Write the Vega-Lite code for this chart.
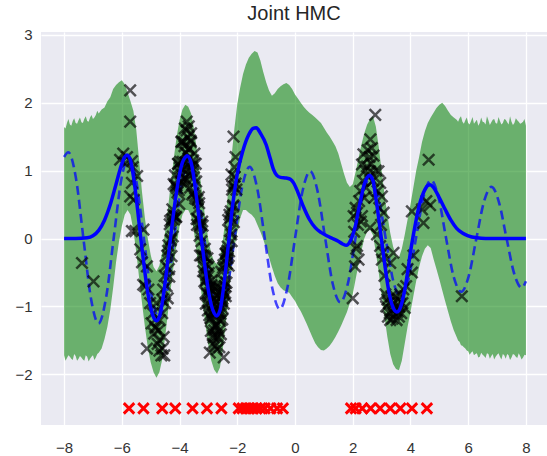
{
"$schema": "https://vega.github.io/schema/vega-lite/v6.json",
"width": 506, "height": 393,
"autosize": "none",
"padding": {"left": 41, "top": 32, "right": 0, "bottom": 31},
"title": {"text": "Joint HMC", "fontSize": 20, "font": "Liberation Sans", "fontWeight": "normal", "color": "#262626", "offset": 4},
"config": {
 "view": {"fill": "#EAEAF2", "stroke": null},
 "axis": {"grid": true, "gridColor": "#FFFFFF", "gridWidth": 1.3, "domain": false, "ticks": false, "tickSize": 0, "labelFont": "Liberation Sans", "labelFontSize": 15, "labelColor": "#333333"},
 "axisX": {"labelPadding": 15},
 "axisY": {"labelPadding": 9}
},
"datasets": {
 "band": [
{"x":-8.0,"lo":-1.72,"hi":1.64},{"x":-7.9,"lo":-1.76,"hi":1.7},{"x":-7.8,"lo":-1.74,"hi":1.68},{"x":-7.7,"lo":-1.79,"hi":1.73},{"x":-7.6,"lo":-1.73,"hi":1.7},{"x":-7.5,"lo":-1.77,"hi":1.74},{"x":-7.4,"lo":-1.75,"hi":1.71},{"x":-7.3,"lo":-1.8,"hi":1.76},{"x":-7.2,"lo":-1.74,"hi":1.73},{"x":-7.1,"lo":-1.77,"hi":1.78},
{"x":-7.0,"lo":-1.72,"hi":1.76},{"x":-6.9,"lo":-1.75,"hi":1.82},{"x":-6.8,"lo":-1.68,"hi":1.84},{"x":-6.7,"lo":-1.62,"hi":1.9},{"x":-6.6,"lo":-1.48,"hi":1.93},{"x":-6.5,"lo":-1.3,"hi":2.02},{"x":-6.4,"lo":-1.05,"hi":2.08},{"x":-6.3,"lo":-0.72,"hi":2.2},{"x":-6.2,"lo":-0.35,"hi":2.26},{"x":-6.1,"lo":-0.05,"hi":2.3},
{"x":-6.0,"lo":0.18,"hi":2.33},{"x":-5.9,"lo":0.35,"hi":2.27},{"x":-5.8,"lo":0.42,"hi":2.15},{"x":-5.7,"lo":0.35,"hi":2.02},{"x":-5.6,"lo":0.12,"hi":1.88},{"x":-5.5,"lo":-0.2,"hi":1.6},{"x":-5.4,"lo":-0.58,"hi":1.15},{"x":-5.3,"lo":-0.95,"hi":0.68},{"x":-5.2,"lo":-1.3,"hi":0.3},{"x":-5.1,"lo":-1.6,"hi":0.0},
{"x":-5.0,"lo":-1.82,"hi":-0.24},{"x":-4.9,"lo":-1.97,"hi":-0.42},{"x":-4.8,"lo":-2.05,"hi":-0.48},{"x":-4.7,"lo":-1.97,"hi":-0.4},{"x":-4.6,"lo":-1.78,"hi":-0.2},{"x":-4.5,"lo":-1.45,"hi":0.1},{"x":-4.4,"lo":-1.08,"hi":0.45},{"x":-4.3,"lo":-0.72,"hi":0.82},{"x":-4.2,"lo":-0.38,"hi":1.18},{"x":-4.1,"lo":-0.08,"hi":1.5},
{"x":-4.0,"lo":0.18,"hi":1.74},{"x":-3.9,"lo":0.35,"hi":1.9},{"x":-3.8,"lo":0.42,"hi":1.97},{"x":-3.7,"lo":0.42,"hi":1.94},{"x":-3.6,"lo":0.33,"hi":1.84},{"x":-3.5,"lo":0.1,"hi":1.62},{"x":-3.4,"lo":-0.24,"hi":1.3},{"x":-3.3,"lo":-0.6,"hi":0.95},{"x":-3.2,"lo":-0.95,"hi":0.6},{"x":-3.1,"lo":-1.28,"hi":0.27},
{"x":-3.0,"lo":-1.58,"hi":-0.02},{"x":-2.9,"lo":-1.8,"hi":-0.22},{"x":-2.8,"lo":-1.93,"hi":-0.34},{"x":-2.7,"lo":-1.99,"hi":-0.38},{"x":-2.6,"lo":-1.9,"hi":-0.28},{"x":-2.5,"lo":-1.62,"hi":-0.03},{"x":-2.4,"lo":-1.25,"hi":0.33},{"x":-2.3,"lo":-0.85,"hi":0.76},{"x":-2.2,"lo":-0.45,"hi":1.2},{"x":-2.1,"lo":-0.12,"hi":1.62},
{"x":-2.0,"lo":0.09,"hi":1.98},{"x":-1.9,"lo":0.3,"hi":2.22},{"x":-1.8,"lo":0.42,"hi":2.42},{"x":-1.7,"lo":0.42,"hi":2.56},{"x":-1.6,"lo":0.38,"hi":2.66},{"x":-1.5,"lo":0.35,"hi":2.72},{"x":-1.4,"lo":0.3,"hi":2.76},{"x":-1.3,"lo":0.2,"hi":2.74},{"x":-1.2,"lo":0.1,"hi":2.62},{"x":-1.1,"lo":-0.01,"hi":2.45},
{"x":-1.0,"lo":-0.15,"hi":2.3},{"x":-0.9,"lo":-0.28,"hi":2.18},{"x":-0.8,"lo":-0.42,"hi":2.1},{"x":-0.7,"lo":-0.55,"hi":2.14},{"x":-0.6,"lo":-0.66,"hi":2.2},{"x":-0.5,"lo":-0.72,"hi":2.24},{"x":-0.4,"lo":-0.76,"hi":2.27},{"x":-0.3,"lo":-0.78,"hi":2.29},{"x":-0.2,"lo":-0.8,"hi":2.26},{"x":-0.1,"lo":-0.86,"hi":2.2},
{"x":0.0,"lo":-0.92,"hi":2.12},{"x":0.1,"lo":-1.0,"hi":2.06},{"x":0.2,"lo":-1.07,"hi":2.0},{"x":0.3,"lo":-1.16,"hi":1.94},{"x":0.4,"lo":-1.25,"hi":1.89},{"x":0.5,"lo":-1.35,"hi":1.85},{"x":0.6,"lo":-1.45,"hi":1.82},{"x":0.7,"lo":-1.54,"hi":1.78},{"x":0.8,"lo":-1.6,"hi":1.74},{"x":0.9,"lo":-1.64,"hi":1.7},
{"x":1.0,"lo":-1.65,"hi":1.63},{"x":1.1,"lo":-1.62,"hi":1.56},{"x":1.2,"lo":-1.58,"hi":1.5},{"x":1.3,"lo":-1.52,"hi":1.43},{"x":1.4,"lo":-1.45,"hi":1.36},{"x":1.5,"lo":-1.37,"hi":1.25},{"x":1.6,"lo":-1.28,"hi":1.1},{"x":1.7,"lo":-1.18,"hi":0.95},{"x":1.8,"lo":-1.08,"hi":0.82},{"x":1.9,"lo":-0.95,"hi":0.76},
{"x":2.0,"lo":-0.82,"hi":0.8},{"x":2.1,"lo":-0.6,"hi":0.98},{"x":2.2,"lo":-0.38,"hi":1.18},{"x":2.3,"lo":-0.18,"hi":1.38},{"x":2.4,"lo":0.0,"hi":1.55},{"x":2.5,"lo":0.1,"hi":1.68},{"x":2.6,"lo":0.13,"hi":1.76},{"x":2.7,"lo":0.05,"hi":1.8},{"x":2.8,"lo":-0.2,"hi":1.65},{"x":2.9,"lo":-0.5,"hi":1.35},
{"x":3.0,"lo":-0.83,"hi":1.0},{"x":3.1,"lo":-1.15,"hi":0.65},{"x":3.2,"lo":-1.45,"hi":0.35},{"x":3.3,"lo":-1.7,"hi":0.08},{"x":3.4,"lo":-1.85,"hi":-0.12},{"x":3.5,"lo":-1.92,"hi":-0.25},{"x":3.6,"lo":-1.94,"hi":-0.28},{"x":3.7,"lo":-1.8,"hi":-0.15},{"x":3.8,"lo":-1.55,"hi":0.05},{"x":3.9,"lo":-1.3,"hi":0.28},
{"x":4.0,"lo":-1.08,"hi":0.5},{"x":4.1,"lo":-0.85,"hi":0.75},{"x":4.2,"lo":-0.62,"hi":1.0},{"x":4.3,"lo":-0.42,"hi":1.2},{"x":4.4,"lo":-0.26,"hi":1.42},{"x":4.5,"lo":-0.15,"hi":1.58},{"x":4.6,"lo":-0.1,"hi":1.7},{"x":4.7,"lo":-0.14,"hi":1.78},{"x":4.8,"lo":-0.3,"hi":1.85},{"x":4.9,"lo":-0.45,"hi":1.92},
{"x":5.0,"lo":-0.6,"hi":1.97},{"x":5.1,"lo":-0.76,"hi":2.0},{"x":5.2,"lo":-0.92,"hi":1.95},{"x":5.3,"lo":-1.07,"hi":1.88},{"x":5.4,"lo":-1.22,"hi":1.82},{"x":5.5,"lo":-1.35,"hi":1.78},{"x":5.6,"lo":-1.45,"hi":1.75},{"x":5.7,"lo":-1.52,"hi":1.77},{"x":5.8,"lo":-1.58,"hi":1.72},{"x":5.9,"lo":-1.62,"hi":1.74},
{"x":6.0,"lo":-1.66,"hi":1.7},{"x":6.1,"lo":-1.68,"hi":1.73},{"x":6.2,"lo":-1.72,"hi":1.69},{"x":6.3,"lo":-1.69,"hi":1.75},{"x":6.4,"lo":-1.74,"hi":1.7},{"x":6.5,"lo":-1.71,"hi":1.72},{"x":6.6,"lo":-1.76,"hi":1.68},{"x":6.7,"lo":-1.7,"hi":1.74},{"x":6.8,"lo":-1.73,"hi":1.71},{"x":6.9,"lo":-1.78,"hi":1.76},
{"x":7.0,"lo":-1.71,"hi":1.69},{"x":7.1,"lo":-1.74,"hi":1.73},{"x":7.2,"lo":-1.7,"hi":1.7},{"x":7.3,"lo":-1.77,"hi":1.75},{"x":7.4,"lo":-1.72,"hi":1.68},{"x":7.5,"lo":-1.75,"hi":1.72},{"x":7.6,"lo":-1.71,"hi":1.7},{"x":7.7,"lo":-1.76,"hi":1.74},{"x":7.8,"lo":-1.73,"hi":1.69},{"x":7.9,"lo":-1.75,"hi":1.72},{"x":8.0,"lo":-1.72,"hi":1.66},
{"x":-7.95,"lo":-1.8,"hi":1.62},{"x":-7.85,"lo":-1.72,"hi":1.76},{"x":-7.75,"lo":-1.77,"hi":1.66},{"x":-7.65,"lo":-1.7,"hi":1.77},{"x":-7.55,"lo":-1.8,"hi":1.69},{"x":-7.45,"lo":-1.73,"hi":1.78},{"x":-7.35,"lo":-1.78,"hi":1.7},{"x":-7.25,"lo":-1.72,"hi":1.8},{"x":-7.15,"lo":-1.81,"hi":1.72},{"x":-7.05,"lo":-1.74,"hi":1.82},{"x":-6.95,"lo":-1.79,"hi":1.78},{"x":-6.85,"lo":-1.7,"hi":1.88},
{"x":5.65,"lo":-1.5,"hi":1.72},{"x":5.75,"lo":-1.57,"hi":1.8},{"x":5.85,"lo":-1.6,"hi":1.69},{"x":5.95,"lo":-1.65,"hi":1.78},{"x":6.05,"lo":-1.71,"hi":1.68},{"x":6.15,"lo":-1.66,"hi":1.79},{"x":6.25,"lo":-1.7,"hi":1.72},{"x":6.35,"lo":-1.75,"hi":1.66},{"x":6.45,"lo":-1.68,"hi":1.78},{"x":6.55,"lo":-1.73,"hi":1.71},{"x":6.65,"lo":-1.69,"hi":1.8},{"x":6.75,"lo":-1.77,"hi":1.67},{"x":6.85,"lo":-1.7,"hi":1.75},{"x":6.95,"lo":-1.74,"hi":1.7},{"x":7.05,"lo":-1.69,"hi":1.79},{"x":7.15,"lo":-1.78,"hi":1.68},{"x":7.25,"lo":-1.72,"hi":1.76},{"x":7.35,"lo":-1.7,"hi":1.71},{"x":7.45,"lo":-1.79,"hi":1.8},{"x":7.55,"lo":-1.7,"hi":1.67},{"x":7.65,"lo":-1.74,"hi":1.77},{"x":7.75,"lo":-1.69,"hi":1.72},{"x":7.85,"lo":-1.78,"hi":1.7},{"x":7.95,"lo":-1.71,"hi":1.76}
 ],
 "mean": [
{"x":-8,"y":0},{"x":-7.6,"y":0},{"x":-7.2,"y":0.01},{"x":-7.0,"y":0.04},{"x":-6.8,"y":0.12},{"x":-6.6,"y":0.27},{"x":-6.4,"y":0.5},{"x":-6.2,"y":0.8},{"x":-6.0,"y":1.1},{"x":-5.9,"y":1.2},{"x":-5.82,"y":1.23},{"x":-5.7,"y":1.15},{"x":-5.6,"y":0.92},{"x":-5.5,"y":0.6},{"x":-5.4,"y":0.22},{"x":-5.3,"y":-0.15},{"x":-5.2,"y":-0.5},{"x":-5.1,"y":-0.8},{"x":-5.0,"y":-1.02},{"x":-4.9,"y":-1.16},{"x":-4.8,"y":-1.21},{"x":-4.7,"y":-1.15},{"x":-4.6,"y":-0.95},{"x":-4.5,"y":-0.65},{"x":-4.4,"y":-0.3},{"x":-4.3,"y":0.05},{"x":-4.2,"y":0.4},{"x":-4.1,"y":0.7},{"x":-4.0,"y":0.95},{"x":-3.9,"y":1.12},{"x":-3.8,"y":1.2},{"x":-3.74,"y":1.22},{"x":-3.6,"y":1.12},{"x":-3.5,"y":0.88},{"x":-3.4,"y":0.56},{"x":-3.3,"y":0.2},{"x":-3.2,"y":-0.15},{"x":-3.1,"y":-0.48},{"x":-3.0,"y":-0.77},{"x":-2.9,"y":-0.98},{"x":-2.8,"y":-1.1},{"x":-2.72,"y":-1.14},{"x":-2.6,"y":-1.06},{"x":-2.5,"y":-0.8},{"x":-2.4,"y":-0.45},{"x":-2.3,"y":-0.05},{"x":-2.2,"y":0.35},{"x":-2.1,"y":0.68},{"x":-2.0,"y":0.95},{"x":-1.8,"y":1.3},{"x":-1.6,"y":1.53},{"x":-1.45,"y":1.62},{"x":-1.34,"y":1.63},{"x":-1.2,"y":1.55},{"x":-1.0,"y":1.38},{"x":-0.86,"y":1.18},{"x":-0.75,"y":1.02},{"x":-0.63,"y":0.93},{"x":-0.5,"y":0.9},{"x":-0.3,"y":0.89},{"x":-0.15,"y":0.87},{"x":-0.05,"y":0.82},{"x":0.1,"y":0.68},{"x":0.3,"y":0.46},{"x":0.5,"y":0.28},{"x":0.7,"y":0.16},{"x":0.9,"y":0.09},{"x":1.1,"y":0.04},{"x":1.3,"y":0.0},{"x":1.5,"y":-0.04},{"x":1.65,"y":-0.08},{"x":1.78,"y":-0.1},{"x":1.9,"y":-0.05},{"x":2.0,"y":0.05},{"x":2.1,"y":0.2},{"x":2.2,"y":0.42},{"x":2.3,"y":0.62},{"x":2.4,"y":0.8},{"x":2.5,"y":0.9},{"x":2.58,"y":0.93},{"x":2.7,"y":0.85},{"x":2.8,"y":0.6},{"x":2.9,"y":0.3},{"x":3.0,"y":-0.03},{"x":3.1,"y":-0.35},{"x":3.2,"y":-0.65},{"x":3.3,"y":-0.88},{"x":3.4,"y":-1.02},{"x":3.52,"y":-1.08},{"x":3.6,"y":-1.06},{"x":3.7,"y":-0.95},{"x":3.8,"y":-0.76},{"x":3.9,"y":-0.5},{"x":4.0,"y":-0.2},{"x":4.1,"y":0.05},{"x":4.2,"y":0.28},{"x":4.3,"y":0.48},{"x":4.4,"y":0.62},{"x":4.5,"y":0.72},{"x":4.6,"y":0.78},{"x":4.68,"y":0.79},{"x":4.8,"y":0.75},{"x":5.0,"y":0.6},{"x":5.2,"y":0.43},{"x":5.4,"y":0.27},{"x":5.6,"y":0.15},{"x":5.8,"y":0.08},{"x":6.0,"y":0.04},{"x":6.3,"y":0.01},{"x":6.6,"y":0},{"x":8,"y":0}
 ],
 "truth": [
{"x":-8,"y":1.2},{"x":-7.854,"y":1.27},{"x":-7.592,"y":0.895},{"x":-7.33,"y":0},{"x":-7.069,"y":-0.882},{"x":-6.807,"y":-1.25},{"x":-6.545,"y":-0.869},{"x":-6.283,"y":0},{"x":-6.021,"y":0.856},{"x":-5.76,"y":1.2},{"x":-5.498,"y":0.843},{"x":-5.236,"y":0},{"x":-4.974,"y":-0.83},{"x":-4.712,"y":-1.165},{"x":-4.451,"y":-0.818},{"x":-4.189,"y":0},{"x":-3.927,"y":0.804},{"x":-3.665,"y":1.128},{"x":-3.403,"y":0.791},{"x":-3.142,"y":0},{"x":-2.88,"y":-0.778},{"x":-2.618,"y":-1.092},{"x":-2.356,"y":-0.765},{"x":-2.094,"y":0},{"x":-1.833,"y":0.752},{"x":-1.571,"y":1.055},{"x":-1.309,"y":0.739},{"x":-1.047,"y":0},{"x":-0.785,"y":-0.735},{"x":-0.524,"y":-1.04},{"x":-0.262,"y":-0.72},{"x":0,"y":0},{"x":0.262,"y":0.7},{"x":0.524,"y":0.99},{"x":0.785,"y":0.69},{"x":1.047,"y":0},{"x":1.309,"y":-0.67},{"x":1.571,"y":-0.94},{"x":1.833,"y":-0.66},{"x":2.094,"y":0},{"x":2.356,"y":0.649},{"x":2.618,"y":0.908},{"x":2.88,"y":0.636},{"x":3.142,"y":0},{"x":3.403,"y":-0.623},{"x":3.665,"y":-0.872},{"x":3.927,"y":-0.61},{"x":4.189,"y":0},{"x":4.451,"y":0.61},{"x":4.712,"y":0.86},{"x":4.974,"y":0.6},{"x":5.236,"y":0},{"x":5.498,"y":-0.565},{"x":5.76,"y":-0.785},{"x":6.021,"y":-0.55},{"x":6.283,"y":0},{"x":6.545,"y":0.54},{"x":6.807,"y":0.76},{"x":7.069,"y":0.53},{"x":7.33,"y":0},{"x":7.592,"y":-0.515},{"x":7.854,"y":-0.725},{"x":8,"y":-0.63}
 ],
 "obs": [
{"x":-7.38,"y":-0.36},{"x":-6.98,"y":-0.63},
{"x":-6.06,"y":1.16},{"x":-5.95,"y":1.25},{"x":-5.88,"y":1.11},{"x":-5.82,"y":1.2},{"x":-5.71,"y":2.18},{"x":-5.71,"y":1.72},{"x":-5.65,"y":1.14},{"x":-5.62,"y":1.05},{"x":-5.65,"y":0.82},{"x":-5.71,"y":0.62},{"x":-5.59,"y":0.57},{"x":-5.47,"y":0.92},{"x":-5.53,"y":0.11},{"x":-5.65,"y":0.11},{"x":-5.25,"y":0.13},{"x":-5.36,"y":-0.16},{"x":-5.13,"y":-0.41},{"x":-5.19,"y":-0.7},{"x":-5.3,"y":-0.35},{"x":-5.08,"y":-0.75},{"x":-5.02,"y":-0.95},{"x":-5.13,"y":-1.62},{"x":-4.97,"y":-1.25},{"x":-4.92,"y":-1.1},{"x":-4.88,"y":-1.4},{"x":-4.84,"y":-1.3},{"x":-4.8,"y":-0.95},{"x":-4.76,"y":-1.55},{"x":-4.72,"y":-1.35},{"x":-4.7,"y":-1.65},{"x":-4.68,"y":-1.2},{"x":-4.63,"y":-1.72},{"x":-4.6,"y":-0.9},{"x":-4.6,"y":-1.1},{"x":-4.57,"y":-0.75},{"x":-4.55,"y":-1.45},{"x":-4.52,"y":-0.55},{"x":-4.5,"y":-0.95},{"x":-4.48,"y":-0.4},{"x":-4.45,"y":-0.7},{"x":-4.43,"y":-0.25},{"x":-4.41,"y":-0.88},{"x":-5.26,"y":-0.68},{"x":-4.83,"y":-1.32},{"x":-4.71,"y":-1.5},{"x":-4.59,"y":-1.62},{"x":-4.53,"y":-1.72},
{"x":-4.40,"y":-0.18},{"x":-4.37,"y":-0.45},{"x":-4.34,"y":0.21},{"x":-4.31,"y":-0.03},{"x":-4.28,"y":-0.26},{"x":-4.25,"y":0.43},{"x":-4.22,"y":0.35},{"x":-4.19,"y":0.28},{"x":-4.16,"y":0.93},{"x":-4.13,"y":0.31},{"x":-4.10,"y":0.78},{"x":-4.07,"y":0.68},{"x":-4.04,"y":1.10},{"x":-4.01,"y":0.51},{"x":-3.98,"y":1.13},{"x":-3.95,"y":0.84},{"x":-3.92,"y":1.43},{"x":-3.89,"y":1.13},{"x":-3.86,"y":0.87},{"x":-3.83,"y":1.36},{"x":-3.80,"y":1.12},{"x":-3.77,"y":1.26},{"x":-3.74,"y":0.86},{"x":-3.71,"y":1.49},{"x":-3.68,"y":1.31},{"x":-3.65,"y":0.92},{"x":-3.62,"y":1.44},{"x":-3.59,"y":1.05},{"x":-3.56,"y":0.65},{"x":-3.53,"y":1.15},{"x":-3.50,"y":0.90},{"x":-3.47,"y":0.63},{"x":-3.44,"y":1.10},{"x":-3.41,"y":0.29},{"x":-3.38,"y":0.57},{"x":-3.35,"y":0.28},{"x":-3.32,"y":0.52},{"x":-3.29,"y":-0.25},{"x":-3.26,"y":0.21},{"x":-3.23,"y":-0.25},{"x":-3.20,"y":0.19},{"x":-3.17,"y":-0.25},{"x":-3.14,"y":-0.63},{"x":-3.11,"y":-0.27},{"x":-3.08,"y":-0.62},{"x":-3.05,"y":-0.58},{"x":-3.02,"y":-1.06},{"x":-2.99,"y":-0.51},{"x":-2.96,"y":-0.73},{"x":-2.93,"y":-1.17},{"x":-2.90,"y":-0.68},{"x":-2.87,"y":-1.07},{"x":-2.84,"y":-1.43},{"x":-2.81,"y":-0.89},{"x":-2.78,"y":-1.09},{"x":-2.75,"y":-1.27},{"x":-2.72,"y":-0.72},{"x":-2.69,"y":-1.43},{"x":-2.66,"y":-1.03},{"x":-2.63,"y":-1.19},{"x":-2.60,"y":-0.81},{"x":-2.57,"y":-1.41},{"x":-2.54,"y":-0.76},{"x":-2.51,"y":-1.03},{"x":-2.48,"y":-0.39},{"x":-2.45,"y":-0.63},{"x":-2.42,"y":-0.80},{"x":-2.39,"y":-0.23},{"x":-2.36,"y":-0.37},{"x":-2.33,"y":-0.12},{"x":-2.30,"y":-0.40},{"x":-2.27,"y":0.35},{"x":-2.24,"y":0.31},{"x":-2.21,"y":0.06},{"x":-2.18,"y":0.72},{"x":-2.15,"y":0.47},{"x":-2.12,"y":0.24},{"x":-2.09,"y":0.91},{"x":-2.06,"y":0.81},{"x":-2.03,"y":0.72},
{"x":-4.385,"y":-0.10},{"x":-4.355,"y":-0.56},{"x":-4.325,"y":0.26},{"x":-4.295,"y":-0.01},{"x":-4.265,"y":0.28},{"x":-4.235,"y":0.03},{"x":-4.205,"y":0.80},{"x":-4.175,"y":0.33},{"x":-4.145,"y":0.77},{"x":-4.115,"y":0.32},{"x":-4.085,"y":0.74},{"x":-4.055,"y":1.10},{"x":-4.025,"y":0.71},{"x":-3.995,"y":1.04},{"x":-3.965,"y":0.96},{"x":-3.935,"y":1.42},{"x":-3.905,"y":0.83},{"x":-3.875,"y":1.02},{"x":-3.845,"y":1.42},{"x":-3.815,"y":0.89},{"x":-3.785,"y":1.26},{"x":-3.755,"y":1.59},{"x":-3.725,"y":1.01},{"x":-3.695,"y":1.18},{"x":-3.665,"y":1.33},{"x":-3.635,"y":0.75},{"x":-3.605,"y":1.42},{"x":-3.575,"y":0.99},{"x":-3.545,"y":1.09},{"x":-3.515,"y":0.67},{"x":-3.485,"y":1.25},{"x":-3.455,"y":0.59},{"x":-3.425,"y":0.84},{"x":-3.395,"y":0.20},{"x":-3.365,"y":0.44},{"x":-3.335,"y":0.61},{"x":-3.305,"y":0.04},{"x":-3.275,"y":0.20},{"x":-3.245,"y":-0.04},{"x":-3.215,"y":0.25},{"x":-3.185,"y":-0.48},{"x":-3.155,"y":-0.42},{"x":-3.125,"y":-0.15},{"x":-3.095,"y":-0.80},{"x":-3.065,"y":-0.54},{"x":-3.035,"y":-0.29},{"x":-3.005,"y":-0.95},{"x":-2.975,"y":-0.84},{"x":-2.945,"y":-0.74},{"x":-2.915,"y":-1.36},{"x":-2.885,"y":-0.70},{"x":-2.855,"y":-1.12},{"x":-2.825,"y":-0.97},{"x":-2.795,"y":-1.35},{"x":-2.765,"y":-0.70},{"x":-2.735,"y":-1.28},{"x":-2.705,"y":-0.93},{"x":-2.675,"y":-1.46},{"x":-2.645,"y":-1.10},{"x":-2.615,"y":-0.80},{"x":-2.585,"y":-1.21},{"x":-2.555,"y":-0.87},{"x":-2.525,"y":-0.92},{"x":-2.495,"y":-0.43},{"x":-2.465,"y":-0.96},{"x":-2.435,"y":-0.70},{"x":-2.405,"y":-0.22},{"x":-2.375,"y":-0.65},{"x":-2.345,"y":-0.18},{"x":-2.315,"y":0.27},{"x":-2.285,"y":-0.19},{"x":-2.255,"y":0.11},{"x":-2.225,"y":0.40},{"x":-2.195,"y":-0.04},{"x":-2.165,"y":0.77},{"x":-2.135,"y":0.49},{"x":-2.105,"y":0.77},
{"x":-3.09,"y":-0.96},{"x":-3.06,"y":-0.38},{"x":-3.03,"y":-0.81},{"x":-3.00,"y":-0.41},{"x":-2.97,"y":-1.13},{"x":-2.94,"y":-0.80},{"x":-2.91,"y":-1.18},{"x":-2.88,"y":-0.61},{"x":-2.85,"y":-1.09},{"x":-2.82,"y":-1.46},{"x":-2.79,"y":-0.95},{"x":-2.76,"y":-1.30},{"x":-2.73,"y":-0.83},{"x":-2.70,"y":-1.63},{"x":-2.67,"y":-1.07},{"x":-2.64,"y":-1.36},{"x":-2.61,"y":-0.87},{"x":-2.58,"y":-1.11},{"x":-2.55,"y":-0.49},{"x":-2.52,"y":-1.19},{"x":-2.49,"y":-0.76},{"x":-2.46,"y":-0.81},{"x":-2.43,"y":-0.31},{"x":-2.40,"y":-0.85},{"x":-2.37,"y":-0.21},{"x":-2.34,"y":-0.29},
{"x":-2.47,"y":-1.75},{"x":-2.95,"y":-1.68},{"x":-2.78,"y":-1.58},{"x":-2.62,"y":-1.6},{"x":-2.85,"y":-1.55},{"x":-3.75,"y":1.72},{"x":-3.68,"y":1.65},{"x":-3.82,"y":1.62},{"x":-3.6,"y":1.55},{"x":-2.13,"y":1.5},{"x":-2.2,"y":0.94},{"x":-2.06,"y":1.2},{"x":-2.1,"y":1.05},
{"x":2.0,"y":-0.88},{"x":2.03,"y":0.33},{"x":2.05,"y":0.1},{"x":2.08,"y":-0.41},{"x":2.1,"y":0.45},{"x":2.12,"y":-0.15},{"x":2.15,"y":0.38},{"x":2.15,"y":-0.11},{"x":2.18,"y":0.2},{"x":2.2,"y":-0.31},{"x":2.22,"y":0.55},{"x":2.26,"y":0.7},{"x":2.28,"y":0.25},{"x":2.32,"y":1.09},{"x":2.32,"y":0.33},{"x":2.35,"y":0.85},{"x":2.37,"y":1.24},{"x":2.4,"y":0.6},{"x":2.43,"y":1.0},{"x":2.46,"y":0.75},{"x":2.49,"y":1.06},{"x":2.52,"y":1.3},{"x":2.55,"y":0.9},{"x":2.58,"y":1.2},{"x":2.6,"y":0.99},{"x":2.6,"y":0.16},{"x":2.61,"y":1.46},{"x":2.64,"y":1.1},{"x":2.66,"y":1.33},{"x":2.7,"y":0.85},{"x":2.72,"y":1.22},{"x":2.75,"y":0.6},{"x":2.78,"y":1.82},{"x":2.8,"y":1.0},{"x":2.84,"y":0.06},{"x":2.86,"y":0.7},{"x":2.89,"y":0.99},{"x":2.92,"y":0.45},{"x":2.95,"y":0.82},{"x":2.95,"y":-0.11},{"x":2.98,"y":0.2},{"x":3.01,"y":0.62},{"x":3.01,"y":-0.31},{"x":3.04,"y":-0.2},{"x":3.07,"y":0.38},{"x":3.1,"y":-0.55},{"x":3.13,"y":-0.82},{"x":3.16,"y":-1.0},{"x":3.2,"y":-0.9},{"x":3.22,"y":-1.15},{"x":3.25,"y":-0.95},{"x":3.28,"y":-1.1},{"x":3.3,"y":-0.36},{"x":3.3,"y":-1.2},{"x":3.33,"y":-0.85},{"x":3.36,"y":-1.05},{"x":3.38,"y":-1.18},{"x":3.41,"y":-0.21},{"x":3.41,"y":-0.95},{"x":3.44,"y":-1.12},{"x":3.47,"y":-0.85},{"x":3.5,"y":-1.0},{"x":3.52,"y":-1.2},{"x":3.55,"y":-1.08},{"x":3.58,"y":-0.9},{"x":3.6,"y":-1.15},{"x":3.62,"y":-1.0},{"x":3.65,"y":-0.82},{"x":3.68,"y":-1.1},{"x":3.72,"y":-0.95},{"x":3.75,"y":-0.75},{"x":3.8,"y":-1.02},{"x":3.85,"y":-0.7},{"x":3.9,"y":-0.45},{"x":4.05,"y":-0.5},{"x":4.05,"y":0.4},{"x":4.1,"y":-0.25},{"x":4.4,"y":0.43},{"x":4.45,"y":0.23},{"x":4.55,"y":0.55},{"x":4.68,"y":0.49},{"x":4.63,"y":1.16},{"x":5.78,"y":-0.85}
 ],
 "inducing": [
{"x":-5.75,"y":-2.5},{"x":-5.25,"y":-2.5},{"x":-4.6,"y":-2.5},{"x":-4.15,"y":-2.5},{"x":-3.55,"y":-2.5},{"x":-3.05,"y":-2.5},{"x":-2.55,"y":-2.5},
{"x":-1.95,"y":-2.5},{"x":-1.82,"y":-2.5},{"x":-1.7,"y":-2.5},{"x":-1.58,"y":-2.5},{"x":-1.45,"y":-2.5},{"x":-1.33,"y":-2.5},{"x":-1.2,"y":-2.5},{"x":-1.05,"y":-2.5},{"x":-0.85,"y":-2.5},{"x":-0.62,"y":-2.5},{"x":-0.42,"y":-2.5},
{"x":1.94,"y":-2.5},{"x":2.1,"y":-2.5},{"x":2.33,"y":-2.5},{"x":2.62,"y":-2.5},{"x":2.95,"y":-2.5},{"x":3.3,"y":-2.5},{"x":3.65,"y":-2.5},{"x":4.05,"y":-2.5},{"x":4.57,"y":-2.5}
 ]
},
"encoding": {
 "x": {"field": "x", "type": "quantitative", "title": null, "scale": {"domain": [-8.8, 8.73], "nice": false, "zero": false}, "axis": {"values": [-8,-6,-4,-2,0,2,4,6,8], "format": "d"}}
},
"layer": [
 {"data": {"name": "band"}, "mark": {"type": "area", "color": "#008000", "opacity": 0.55, "clip": true},
  "encoding": {"y": {"field": "lo", "type": "quantitative", "title": null, "scale": {"domain": [-2.745, 3.04], "nice": false, "zero": false}, "axis": {"values": [-2,-1,0,1,2,3], "format": "d"}}, "y2": {"field": "hi"}}},
 {"data": {"name": "truth"}, "mark": {"type": "line", "color": "#0000FF", "opacity": 0.72, "strokeWidth": 2.6, "strokeDash": [9, 5], "interpolate": "monotone", "clip": true},
  "encoding": {"y": {"field": "y", "type": "quantitative", "title": null}}},
 {"data": {"name": "obs"}, "mark": {"type": "point", "shape": "M-1,-1L1,1M-1,1L1,-1", "filled": false, "color": "#000000", "opacity": 0.65, "size": 130, "strokeWidth": 2.5, "clip": true},
  "encoding": {"y": {"field": "y", "type": "quantitative", "title": null}}},
 {"data": {"name": "mean"}, "mark": {"type": "line", "color": "#0000FF", "strokeWidth": 3.5, "interpolate": "monotone", "clip": true},
  "encoding": {"y": {"field": "y", "type": "quantitative", "title": null}}},
 {"data": {"name": "inducing"}, "mark": {"type": "point", "shape": "M-1,-1L1,1M-1,1L1,-1", "filled": false, "color": "#FF0000", "opacity": 1, "size": 110, "strokeWidth": 2.9, "clip": true},
  "encoding": {"y": {"field": "y", "type": "quantitative", "title": null}}}
]
}
